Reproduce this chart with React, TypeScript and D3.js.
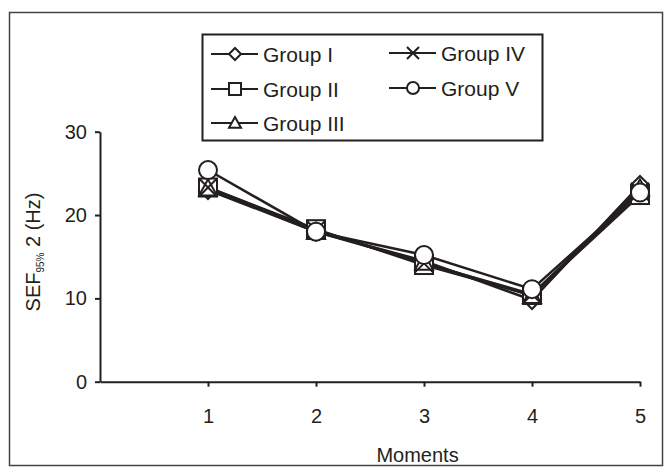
import { useEffect, useRef } from 'react';
import * as d3 from 'd3';

// moments on x axis
const moments = [1, 2, 3, 4, 5];
const yTicks = [0, 10, 20, 30];

const groupNames = ['Group I', 'Group II', 'Group III', 'Group IV', 'Group V'];
const groupMarkers = ['diamond', 'square', 'triangle', 'cross', 'circle'];

const group1 = [23.0, 18.0, 14.5, 9.8, 23.6];
const group2 = [23.3, 18.3, 14.0, 10.4, 22.4];
const group3 = [23.2, 18.0, 14.3, 10.3, 23.2];
const group4 = [23.3, 18.2, 14.2, 10.5, 22.8];
const group5 = [25.4, 18.0, 15.2, 11.1, 22.7];

const seriesValues = [group1, group2, group3, group4, group5];

const INK = '#231f20';
const FONT = '"Liberation Sans", Arial, sans-serif';
const FS = 20;

export default function App() {
    const svgRef = useRef<SVGSVGElement>(null);

    useEffect(() => {
        if (!svgRef.current) return;
        const svg = d3.select(svgRef.current);
        svg.selectAll('*').remove();

        // outer frame
        svg.append('rect')
            .attr('x', 9.5).attr('y', 12.5)
            .attr('width', 653).attr('height', 453)
            .attr('fill', 'white')
            .attr('stroke', '#444').attr('stroke-width', 1.5);

        const x = d3.scaleLinear().domain([0, 5]).range([100, 640]);
        const y = d3.scaleLinear().domain([0, 30]).range([381.7, 131.7]);

        // y axis
        const yAxis = svg.append('g')
            .attr('transform', `translate(${x(0)},0)`)
            .call(d3.axisLeft(y).tickValues(yTicks).tickSize(5).tickPadding(8).tickSizeOuter(0));
        yAxis.select('.domain').attr('stroke', INK).attr('stroke-width', 2);
        yAxis.selectAll('.tick line').attr('stroke', INK).attr('stroke-width', 2);
        yAxis.selectAll('.tick text')
            .attr('font-family', FONT).attr('font-size', FS).attr('fill', INK);

        // x axis
        const xAxis = svg.append('g')
            .attr('transform', `translate(0,${y(0)})`)
            .call(d3.axisBottom(x).tickValues(moments).tickSize(5).tickPadding(22).tickSizeOuter(0)
                .tickFormat(d3.format('d')));
        xAxis.select('.domain').attr('stroke', INK).attr('stroke-width', 2);
        xAxis.selectAll('.tick line').attr('stroke', INK).attr('stroke-width', 2);
        xAxis.selectAll('.tick text')
            .attr('font-family', FONT).attr('font-size', FS).attr('fill', INK);

        // axis titles
        svg.append('text')
            .attr('x', x(2.94)).attr('y', 462)
            .attr('text-anchor', 'middle')
            .attr('font-family', FONT).attr('font-size', FS).attr('fill', INK)
            .text('Moments');

        const yTitle = svg.append('text')
            .attr('transform', `translate(40,${252}) rotate(-90)`)
            .attr('text-anchor', 'middle')
            .attr('font-family', FONT).attr('font-size', FS).attr('fill', INK);
        yTitle.append('tspan').text('SEF');
        yTitle.append('tspan').attr('font-size', 10).attr('dy', 4).text('95%');
        yTitle.append('tspan').attr('dy', -4).text(' 2 (Hz)');

        const drawMarker = (g: any, kind: string, cx: number, cy: number, s: number) => {
            if (kind === 'diamond') {
                g.append('path')
                    .attr('d', `M${cx},${cy - s}L${cx + s},${cy}L${cx},${cy + s}L${cx - s},${cy}Z`)
                    .attr('fill', 'white').attr('stroke', INK).attr('stroke-width', 2);
            } else if (kind === 'square') {
                g.append('rect')
                    .attr('x', cx - s).attr('y', cy - s).attr('width', 2 * s).attr('height', 2 * s)
                    .attr('fill', 'white').attr('stroke', INK).attr('stroke-width', 2);
            } else if (kind === 'triangle') {
                g.append('path')
                    .attr('d', `M${cx},${cy - s}L${cx + s},${cy + s * 0.8}L${cx - s},${cy + s * 0.8}Z`)
                    .attr('fill', 'white').attr('stroke', INK).attr('stroke-width', 2);
            } else if (kind === 'cross') {
                g.append('path')
                    .attr('d', `M${cx - s},${cy - s}L${cx + s},${cy + s}M${cx - s},${cy + s}L${cx + s},${cy - s}`)
                    .attr('fill', 'none').attr('stroke', INK).attr('stroke-width', 2);
            } else {
                g.append('circle')
                    .attr('cx', cx).attr('cy', cy).attr('r', s)
                    .attr('fill', 'white').attr('stroke', INK).attr('stroke-width', 2);
            }
        };

        const line = d3.line<number>()
            .x((_, i) => x(moments[i]))
            .y((d) => y(d));

        // lines first
        seriesValues.forEach((vals) => {
            svg.append('path')
                .attr('d', line(vals))
                .attr('fill', 'none')
                .attr('stroke', INK)
                .attr('stroke-width', 2.5);
        });

        // markers
        seriesValues.forEach((vals, si) => {
            const g = svg.append('g');
            vals.forEach((v, i) => {
                drawMarker(g, groupMarkers[si], x(moments[i]), y(v), 9);
            });
        });

        // legend
        const legend = svg.append('g');
        legend.append('rect')
            .attr('x', 202.5).attr('y', 34.5).attr('width', 340).attr('height', 106)
            .attr('fill', 'white').attr('stroke', INK).attr('stroke-width', 2);

        const legendPos = [
            { lx: 211, ly: 54 },
            { lx: 211, ly: 89 },
            { lx: 211, ly: 123 },
            { lx: 389, ly: 53 },
            { lx: 389, ly: 88 },
        ];
        groupNames.forEach((name, i) => {
            const { lx, ly } = legendPos[i];
            legend.append('line')
                .attr('x1', lx).attr('x2', lx + 47).attr('y1', ly).attr('y2', ly)
                .attr('stroke', INK).attr('stroke-width', 2);
            drawMarker(legend, groupMarkers[i], lx + 24, ly, 6);
            legend.append('text')
                .attr('x', lx + 52).attr('y', ly + 7.5)
                .attr('font-family', FONT).attr('font-size', 21).attr('fill', INK)
                .text(name);
        });
    }, []);

    return (
        <svg ref={svgRef} width={671} height={468}
            style={{ position: 'absolute', left: 0, top: 0, background: 'white' }} />
    );
}
